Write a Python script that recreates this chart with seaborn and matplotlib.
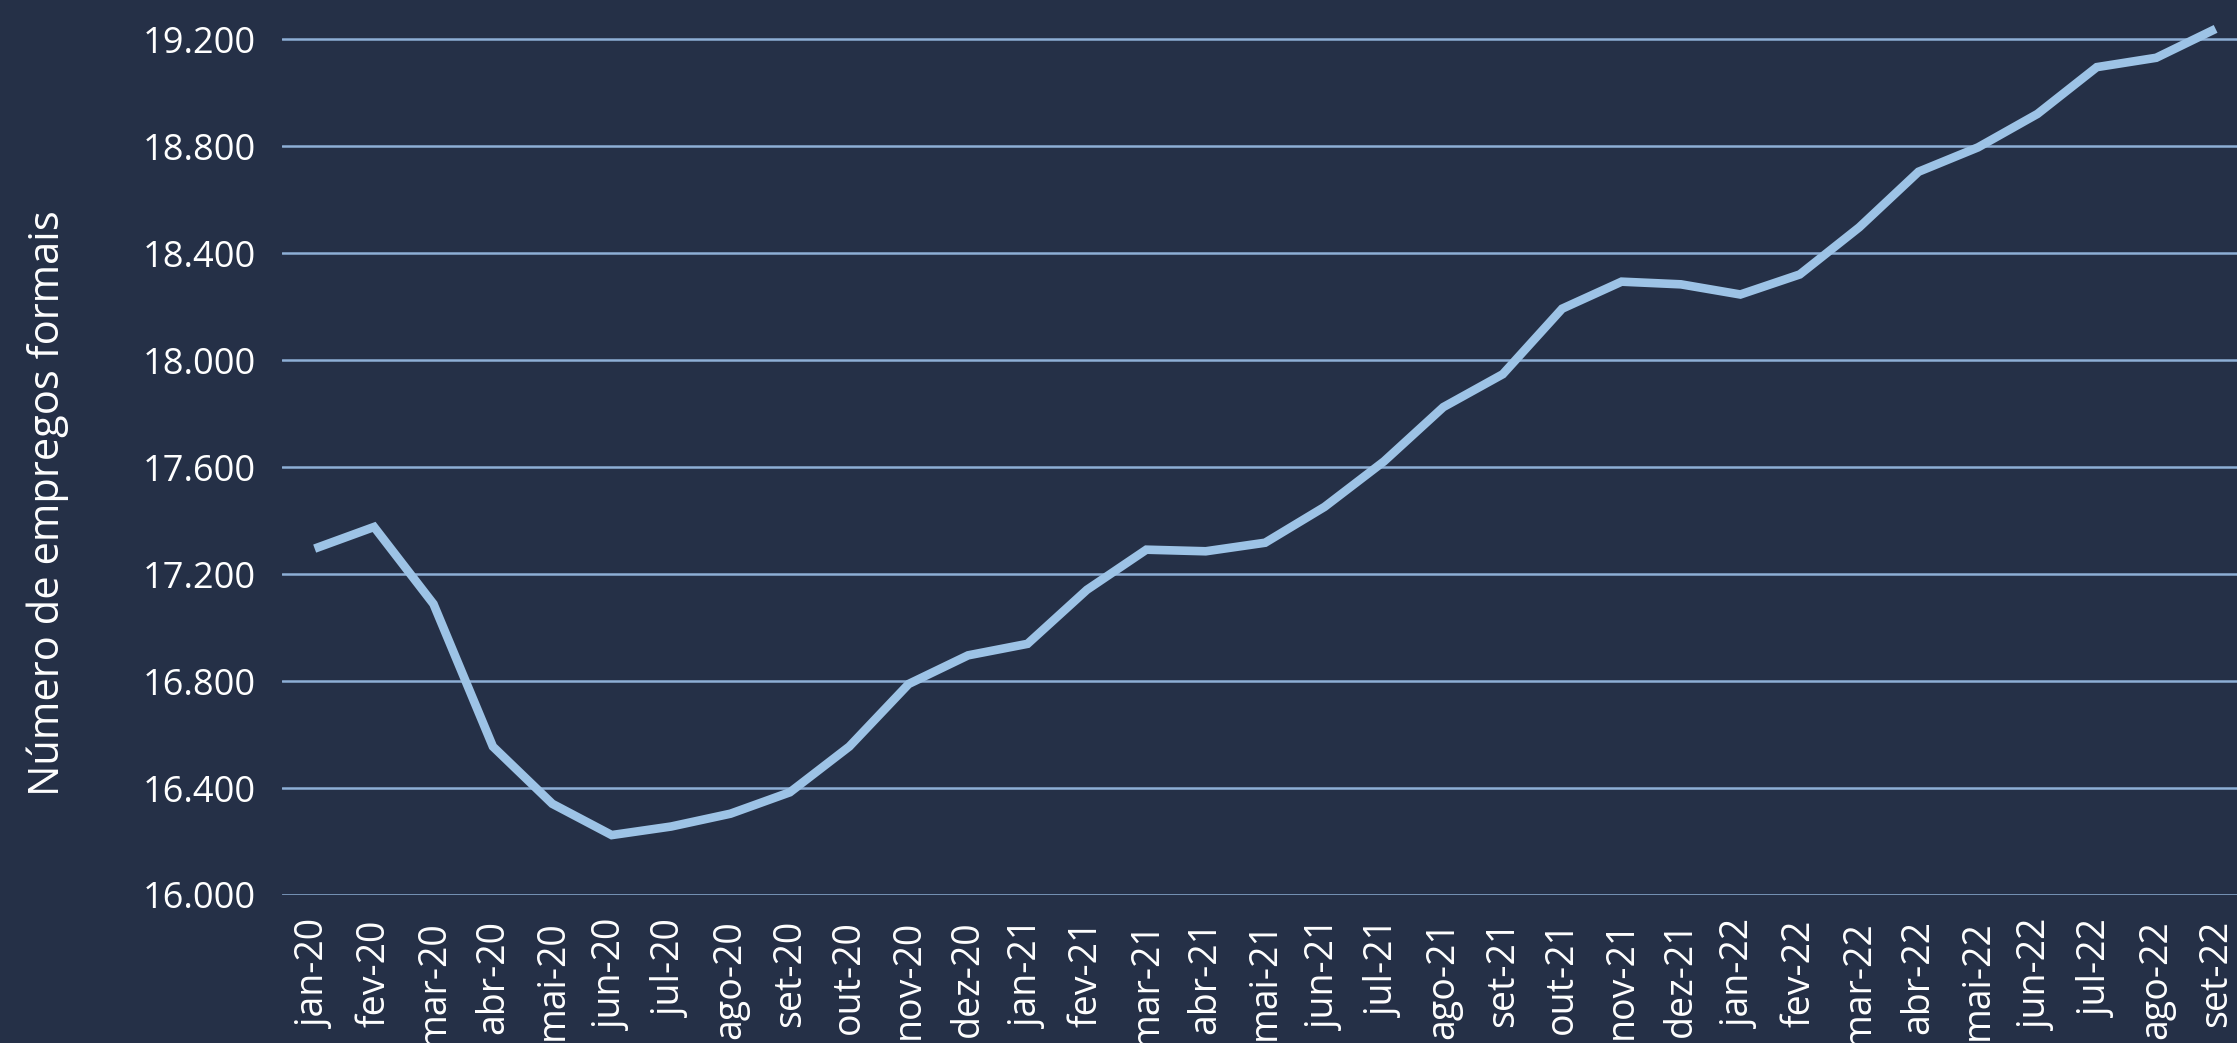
import numpy as np
import pandas as pd
import seaborn as sns
import matplotlib.pyplot as plt

# formal jobs (thousands), jan-20 .. set-22
MESES = [ 'jan-20', 'fev-20', 'mar-20', 'abr-20', 'mai-20', 'jun-20', 'jul-20', 'ago-20', 'set-20',
          'out-20', 'nov-20', 'dez-20', 'jan-21', 'fev-21', 'mar-21', 'abr-21', 'mai-21', 'jun-21',
          'jul-21', 'ago-21', 'set-21', 'out-21', 'nov-21', 'dez-21', 'jan-22', 'fev-22', 'mar-22',
          'abr-22', 'mai-22', 'jun-22', 'jul-22', 'ago-22', 'set-22' ]
EMPREGOS = [ 17295, 17376, 17088, 16555, 16341, 16224, 16256, 16304, 16384,
             16555, 16789, 16896, 16939, 17141, 17291, 17285, 17317, 17451,
             17621, 17824, 17947, 18192, 18293, 18283, 18245, 18320, 18496,
             18704, 18795, 18920, 19095, 19130, 19238 ]
YTICKS = [ 16000, 16400, 16800, 17200, 17600, 18000, 18400, 18800, 19200 ]

BG    = '#253047'
LINE  = '#9dc3e6'
GRID  = '#8eafd6'

sns.set_style( 'dark' )
plt.rcParams['font.family'] = [ 'Open Sans', 'DejaVu Sans' ]

df = pd.DataFrame( { 'mes': MESES, 'empregos': EMPREGOS } )
df['pos'] = np.arange( len( df ) )

fig = plt.figure( figsize=(22.37, 10.43), dpi=100, facecolor=BG )
ax  = fig.add_axes( [ 282/2237, 1 - 895/1043, 1 - 282/2237, 895/1043 ] )
ax.set_facecolor( BG )

sns.lineplot( data=df, x='pos', y='empregos', color=LINE, linewidth=6.2, ax=ax,
              sort=False, solid_capstyle='butt', solid_joinstyle='miter' )

ax.set_xlim( -0.55, len( MESES ) - 1 + 0.36 )
ax.set_ylim( 16000, 19346 )
ax.set_yticks( YTICKS )
ax.set_yticklabels( [ f'{v:,.0f}'.replace( ',', '.' ) for v in YTICKS ] )
ax.set_xticks( df['pos'] )
ax.set_xticklabels( MESES, rotation=90 )
ax.grid( axis='y', color=GRID, linewidth=1.8 )
ax.grid( axis='x', visible=False )
ax.set_axisbelow( True )
for s in ax.spines.values():
    s.set_visible( False )
ax.tick_params( axis='y', length=0, pad=19, labelsize=26, labelcolor='white' )
ax.tick_params( axis='x', length=0, pad=18, labelsize=27, labelcolor='white' )
ax.set_xlabel( '' )
ax.set_ylabel( '' )
fig.text( 48/2237, 1 - 503/1043, 'Número de empregos formais', rotation=90,
          ha='center', va='center', color='white', fontsize=30 )

fig.savefig( 'out.png', dpi=100, facecolor=BG )
